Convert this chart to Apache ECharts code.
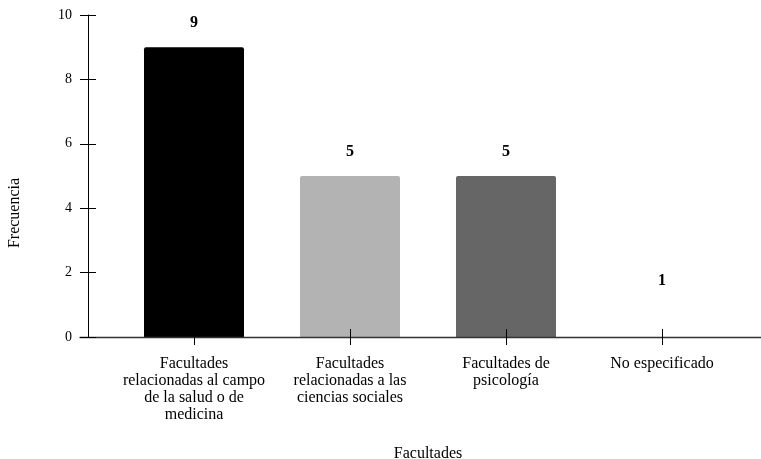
<!DOCTYPE html>
<html>
<head>
<meta charset="utf-8">
<script src="https://cdn.jsdelivr.net/npm/echarts@6/dist/echarts.min.js"></script>
<style>html,body{margin:0;padding:0;background:#fff}#c{width:761px;height:459px}</style>
</head>
<body>
<div id="c"></div>
<script>
const categories = [
  "Facultades\nrelacionadas al campo\nde la salud o de\nmedicina",
  "Facultades\nrelacionadas a las\nciencias sociales",
  "Facultades de\npsicología",
  "No especificado"
];
const values = [9, 5, 5, 1];
const barColors = ["#000000", "#b3b3b3", "#666666", "#ffffff"];
const yTicks = { min: 0, max: 10, interval: 2 };
const xName = "Facultades";
const yName = "Frecuencia";

const FONT = "'Liberation Serif', 'Times New Roman', serif";
const chart = echarts.init(document.getElementById('c'), null, { renderer: 'canvas' });

chart.setOption({
  animation: false,
  backgroundColor: '#fff',
  grid: [
    { left: 116, right: 21, top: 15, bottom: 122, outerBoundsMode: 'none', containLabel: false },
    { left: 80, right: 0, top: 15, bottom: 122, outerBoundsMode: 'none', containLabel: false }
  ],
  xAxis: [
    {
      type: 'category', gridIndex: 0, data: categories, position: 'bottom', offset: -8, z: 5,
      axisLine: { show: false, onZero: false },
      axisTick: { show: true, alignWithLabel: true, length: 16, lineStyle: { color: '#000', width: 1 } },
      axisLabel: { color: '#000', fontFamily: FONT, fontSize: 16, lineHeight: 17, margin: 26, interval: 0 },
      name: xName, nameLocation: 'middle', nameGap: 117,
      nameTextStyle: { color: '#000', fontFamily: FONT, fontSize: 16 }
    },
    {
      type: 'value', gridIndex: 1, min: 0, max: 1, position: 'bottom', z: 5,
      axisLine: { show: true, lineStyle: { color: '#333', width: 1.3 } },
      axisTick: { show: false }, axisLabel: { show: false }, splitLine: { show: false }
    }
  ],
  yAxis: [
    {
      type: 'value', gridIndex: 0, min: yTicks.min, max: yTicks.max, interval: yTicks.interval,
      position: 'left', offset: 20, z: 5,
      axisLine: { show: false },
      axisTick: { show: true, length: 16, lineStyle: { color: '#000', width: 1 } },
      axisLabel: { color: '#000', fontFamily: FONT, fontSize: 14, margin: 24 },
      splitLine: { show: false }
    },
    {
      type: 'value', gridIndex: 1, min: 0, max: 1, position: 'left', offset: -8, z: 5,
      axisLine: { show: true, onZero: false, lineStyle: { color: '#000', width: 1 } },
      axisTick: { show: false }, axisLabel: { show: false }, splitLine: { show: false }
    }
  ],
  graphic: [
    {
      type: 'text', x: 15, y: 213, rotation: Math.PI / 2,
      style: { text: yName, fill: '#000', font: '16px ' + FONT, textAlign: 'center', textVerticalAlign: 'middle' }
    }
  ],
  series: [
    {
      type: 'bar', xAxisIndex: 0, yAxisIndex: 0,
      barWidth: 100,
      data: values.map((v, i) => ({ value: v, itemStyle: { color: barColors[i], borderRadius: [2, 2, 0, 0] } })),
      label: {
        show: true, position: 'top', distance: 16, color: '#000',
        fontFamily: FONT, fontSize: 16, fontWeight: 'bold'
      }
    }
  ]
});
</script>
</body>
</html>
